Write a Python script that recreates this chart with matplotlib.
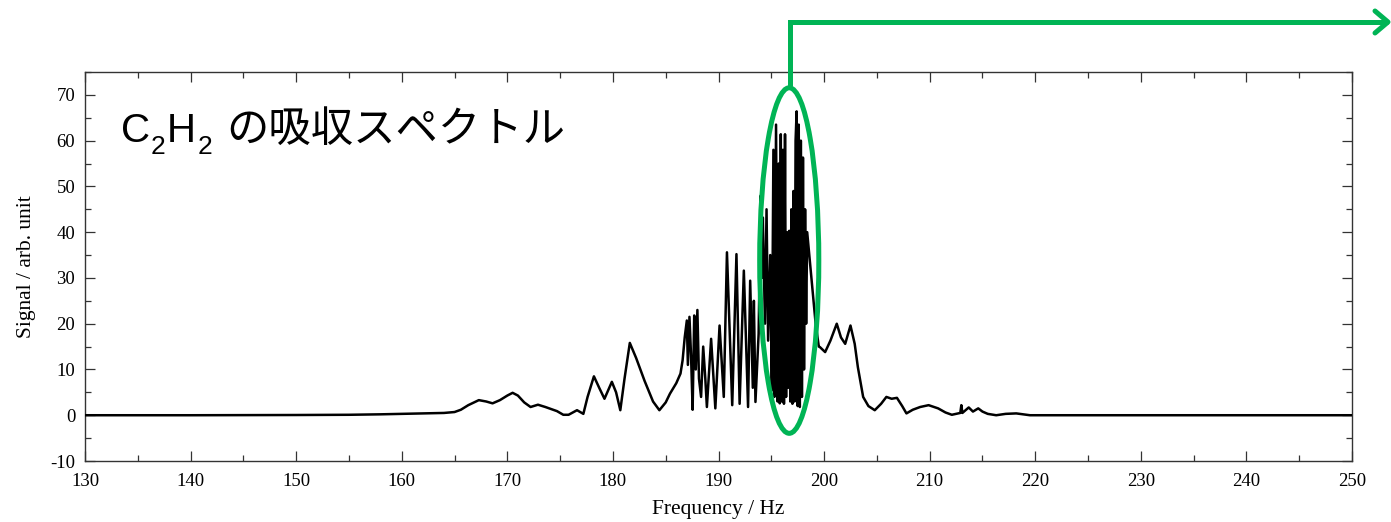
import matplotlib
matplotlib.use("Agg")
import matplotlib.pyplot as plt
from matplotlib.patches import Ellipse
from matplotlib.lines import Line2D
from matplotlib.ticker import MultipleLocator

plt.rcParams["axes.unicode_minus"] = False

# ---- data ----
freq = [130.0, 140.0, 150.0, 155.0, 158.0, 160.0, 162.0, 164.0, 165.0, 165.6,
        166.3, 167.3, 168.0, 168.6, 169.3, 170.0, 170.5, 171.0, 171.6, 172.2,
        172.9, 173.6, 174.7, 175.3, 175.8, 176.6, 177.2, 177.6, 178.2, 178.7,
        179.2, 179.9, 180.3, 180.7, 181.1, 181.6, 182.2, 183.0, 183.8, 184.4,
        185.0, 185.4, 186.0, 186.4, 186.6, 186.8, 187.0, 187.1, 187.25, 187.4,
        187.55, 187.7, 187.85, 188.0, 188.15, 188.35, 188.55, 188.75, 188.9, 189.3,
        189.7, 190.1, 190.5, 190.8, 191.3, 191.7, 192.0, 192.4, 192.8, 193.0,
        193.25, 193.35, 193.5, 193.8, 194.0, 194.1, 194.2, 194.4, 194.55, 194.7,
        194.9, 195.05, 195.2, 195.3, 195.45, 195.6, 195.7, 195.8, 195.9, 196.0,
        196.1, 196.2, 196.3, 196.4, 196.5, 196.6, 196.7, 196.8, 196.9, 197.0,
        197.1, 197.2, 197.3, 197.4, 197.5, 197.6, 197.7, 197.8, 197.9, 198.0,
        198.1, 198.2, 198.3, 198.4, 198.8, 199.2, 199.5, 199.6, 200.1, 200.6,
        201.2, 201.6, 202.0, 202.5, 202.9, 203.2, 203.7, 204.2, 204.8, 205.4,
        205.9, 206.4, 206.9, 207.4, 207.8, 208.4, 209.1, 209.9, 210.8, 211.5,
        212.1, 212.9, 213.0, 213.1, 213.7, 214.1, 214.6, 215.0, 215.5, 216.3,
        217.2, 218.2, 219.5, 230.0, 250.0]
signal = [0.0, 0.0, 0.05, 0.1, 0.2, 0.3, 0.4, 0.5, 0.7, 1.2,
          2.2, 3.3, 3.0, 2.6, 3.3, 4.3, 4.9, 4.3, 2.8, 1.8,
          2.3, 1.8, 0.9, 0.1, 0.1, 1.1, 0.3, 4.0, 8.5, 6.0,
          3.6, 7.3, 5.0, 1.1, 8.0, 15.8, 12.5, 7.5, 3.0, 1.1,
          2.8, 4.7, 7.0, 9.1, 12.0, 17.0, 20.7, 11.0, 21.5, 13.0,
          1.2, 21.8, 10.0, 23.0, 8.0, 4.0, 15.0, 8.0, 1.8, 16.7,
          1.5, 19.6, 4.0, 35.6, 2.2, 35.2, 2.5, 31.6, 1.8, 29.4,
          6.0, 25.0, 2.9, 17.8, 48.0, 30.0, 43.2, 20.0, 45.0, 16.3,
          35.0, 5.4, 58.0, 4.0, 63.5, 3.0, 55.0, 2.6, 61.4, 3.0,
          58.0, 2.5, 61.4, 4.0, 40.0, 6.0, 40.3, 3.0, 45.0, 2.5,
          49.0, 3.0, 60.0, 66.4, 2.0, 63.5, 1.8, 60.0, 4.0, 56.3,
          10.0, 45.0, 20.0, 40.0, 30.0, 20.0, 15.0, 14.9, 13.8, 16.3,
          20.0, 17.0, 15.6, 19.6, 15.6, 10.5, 4.0, 2.0, 1.1, 2.5,
          4.0, 3.6, 3.8, 2.0, 0.4, 1.2, 1.8, 2.2, 1.5, 0.6,
          0.1, 0.5, 2.2, 0.5, 1.7, 0.8, 1.5, 0.8, 0.3, 0.0,
          0.3, 0.4, 0.0, 0.0, 0.0]

x_ticks = [130, 140, 150, 160, 170, 180, 190, 200, 210, 220, 230, 240, 250]
y_ticks = [-10, 0, 10, 20, 30, 40, 50, 60, 70]

title_parts = ["C", "2", "H", "2", "の吸収スペクトル"]

W, H = 1391, 522
fig = plt.figure(figsize=(W / 100, H / 100), dpi=100)
ax = fig.add_axes([85 / W, 1 - 461 / H, (1352 - 85) / W, (461 - 72) / H])

ax.plot(freq, signal, color="black", lw=1.8, zorder=3)

ax.set_xlim(130, 250)
ax.set_ylim(-10, 75)
ax.set_xticks(x_ticks)
ax.set_yticks(y_ticks)
ax.xaxis.set_minor_locator(MultipleLocator(5))
ax.yaxis.set_minor_locator(MultipleLocator(5))
ax.tick_params(which="both", direction="in", top=True, right=True,
               color="#333333", width=0.9)
ax.tick_params(which="major", length=7)
ax.tick_params(which="minor", length=4)
ax.tick_params(axis="y", pad=7)
ax.tick_params(axis="x", pad=9)
for lab in ax.get_xticklabels() + ax.get_yticklabels():
    lab.set_family("Liberation Serif")
    lab.set_fontsize(13.5)
for sp in ax.spines.values():
    sp.set_color("#333333")
    sp.set_linewidth(1.0)

ax.set_xlabel("Frequency / Hz", family="Liberation Serif", fontsize=15.5, labelpad=7)
ax.set_ylabel("Signal / arb. unit", family="Liberation Serif", fontsize=15.5, labelpad=10)

# title pieces (figure pixel positions)
green = "#00B455"
lat = ["Liberation Sans", "DejaVu Sans"]
jp = ["Noto Sans CJK JP", "DejaVu Sans"]
def fx(px):
    return px / W
def fy(py):
    return 1 - py / H
fig.text(fx(121), fy(142), title_parts[0], family=lat, fontsize=29, va="baseline")
fig.text(fx(151), fy(154), title_parts[1], family=lat, fontsize=19, va="baseline")
fig.text(fx(167), fy(142), title_parts[2], family=lat, fontsize=29, va="baseline")
fig.text(fx(198), fy(154), title_parts[3], family=lat, fontsize=19, va="baseline")
fig.text(fx(226), fy(142), title_parts[4], family=jp, fontsize=30.5, va="baseline")

# green ellipse around the strongest band
ell = Ellipse((196.7, 33.8), width=5.6, height=75.5, fill=False,
              edgecolor=green, lw=3.6, zorder=5, clip_on=False)
ax.add_patch(ell)

# green arrow (figure coordinates)
fig.add_artist(Line2D([fx(790), fx(790), fx(1388)], [fy(86), fy(22), fy(22)],
                      color=green, lw=3.6, solid_joinstyle="miter",
                      solid_capstyle="butt", transform=fig.transFigure))
fig.add_artist(Line2D([fx(1375), fx(1388), fx(1375)], [fy(11), fy(22), fy(33)],
                      color=green, lw=3.6, solid_joinstyle="round",
                      solid_capstyle="round", transform=fig.transFigure))

fig.savefig("out.png", dpi=100)
